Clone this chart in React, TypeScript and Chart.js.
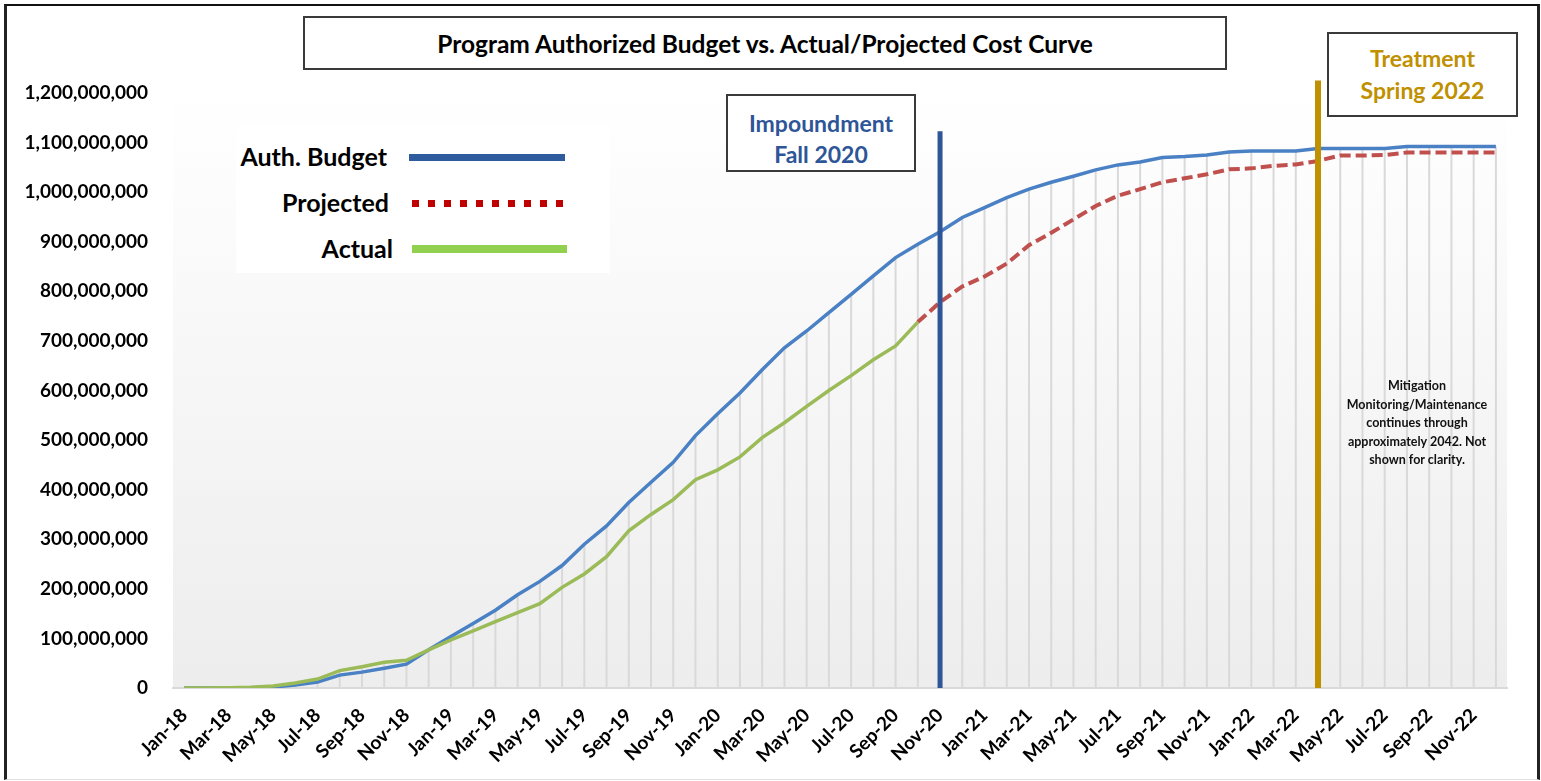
import React, { useEffect, useRef } from "react";
import { Chart, registerables } from "chart.js";

Chart.register(...registerables);

const MONTHS = [
  "Jan-18", "Feb-18", "Mar-18", "Apr-18", "May-18", "Jun-18", "Jul-18", "Aug-18", "Sep-18", "Oct-18", "Nov-18", "Dec-18",
  "Jan-19", "Feb-19", "Mar-19", "Apr-19", "May-19", "Jun-19", "Jul-19", "Aug-19", "Sep-19", "Oct-19", "Nov-19", "Dec-19",
  "Jan-20", "Feb-20", "Mar-20", "Apr-20", "May-20", "Jun-20", "Jul-20", "Aug-20", "Sep-20", "Oct-20", "Nov-20", "Dec-20",
  "Jan-21", "Feb-21", "Mar-21", "Apr-21", "May-21", "Jun-21", "Jul-21", "Aug-21", "Sep-21", "Oct-21", "Nov-21", "Dec-21",
  "Jan-22", "Feb-22", "Mar-22", "Apr-22", "May-22", "Jun-22", "Jul-22", "Aug-22", "Sep-22", "Oct-22", "Nov-22", "Dec-22",
];

// values in millions of dollars
const AUTH_BUDGET_M = [
  0, 0, 0, 0.5, 2, 6, 12, 26, 32, 40, 48, 77,
  104, 130, 157, 188, 215, 247, 290, 327, 374, 415, 455, 509,
  553, 595, 642, 686, 720, 757, 794, 831, 868, 895, 920, 949,
  969, 989, 1006, 1020, 1032, 1045, 1055, 1061, 1070, 1072, 1075, 1081,
  1083, 1083, 1083, 1088, 1088, 1088, 1088, 1092, 1092, 1092, 1092, 1092,
];

const ACTUAL_M = [
  0, 0, 0.5, 1.5, 4, 10, 18, 35, 43, 52, 56, 77,
  97, 115, 134, 152, 170, 203, 230, 265, 317, 350, 380, 420,
  440, 466, 505, 535, 568, 600, 630, 662, 690, 738,
];

const PROJECTED_M = [
  null, null, null, null, null, null, null, null, null, null, null, null,
  null, null, null, null, null, null, null, null, null, null, null, null,
  null, null, null, null, null, null, null, null, null, 738, 778, 810,
  830, 856, 893, 918, 945, 972, 993, 1006, 1020, 1028, 1036, 1046,
  1048, 1053, 1056, 1063, 1074, 1074, 1075, 1080, 1080, 1080, 1080, 1080,
];

const Y_MAX = 1200000000;
const Y_STEP = 100000000;

const IMPOUNDMENT_INDEX = 34;
const IMPOUNDMENT_TOP = 1123000000;
const TREATMENT_INDEX = 51;
const TREATMENT_TOP = 1225000000;

const FONT = 'Lato, "Open Sans", sans-serif';

const toDollars = (arr: (number | null)[]) => arr.map((v) => (v === null ? null : v * 1000000));

const bgPlugin = {
  id: "bgPlugin",
  beforeDraw(chart: any) {
    const { ctx, chartArea: a } = chart;
    ctx.save();
    const g = ctx.createLinearGradient(0, a.top, 0, a.bottom);
    g.addColorStop(0, "#ffffff");
    g.addColorStop(1, "#ededed");
    ctx.fillStyle = g;
    ctx.fillRect(a.left, a.top, a.right - a.left, a.bottom - a.top);
    ctx.restore();
  },
  beforeDatasetsDraw(chart: any) {
    const { ctx, chartArea: a, scales } = chart;
    const xs = scales.x;
    const ys = scales.y;
    const ds = chart.data.datasets;
    ctx.save();
    ctx.strokeStyle = "#d9d9d9";
    ctx.lineWidth = 2;
    for (let i = 0; i < MONTHS.length; i++) {
      let top = 0;
      for (const d of ds) {
        const v = d.data[i];
        if (v !== null && v !== undefined && v > top) top = v;
      }
      const x = xs.getPixelForValue(i);
      ctx.beginPath();
      ctx.moveTo(x, ys.getPixelForValue(top));
      ctx.lineTo(x, a.bottom);
      ctx.stroke();
    }
    ctx.restore();
  },
  afterDatasetsDraw(chart: any) {
    const { ctx, chartArea: a, scales } = chart;
    const xs = scales.x;
    const ys = scales.y;
    const marks = [
      { i: IMPOUNDMENT_INDEX, top: IMPOUNDMENT_TOP, color: "#2e5597", w: 5 },
      { i: TREATMENT_INDEX, top: TREATMENT_TOP, color: "#bf9000", w: 6 },
    ];
    ctx.save();
    for (const m of marks) {
      const x = xs.getPixelForValue(m.i);
      ctx.strokeStyle = m.color;
      ctx.lineWidth = m.w;
      ctx.beginPath();
      ctx.moveTo(x, ys.getPixelForValue(m.top));
      ctx.lineTo(x, a.bottom);
      ctx.stroke();
    }
    ctx.restore();
  },
};

function ChartCanvas() {
  const ref = useRef<HTMLCanvasElement | null>(null);
  useEffect(() => {
    if (!ref.current) return;
    const chart = new Chart(ref.current, {
      type: "line",
      data: {
        labels: MONTHS,
        datasets: [
          {
            label: "Actual",
            data: toDollars(ACTUAL_M),
            borderColor: "#9bbb59",
            borderWidth: 3.5,
            pointRadius: 0,
            tension: 0,
            fill: false,
          },
          {
            label: "Projected",
            data: toDollars(PROJECTED_M),
            borderColor: "#c0504d",
            borderWidth: 4,
            borderDash: [11, 5],
            pointRadius: 0,
            tension: 0,
            fill: false,
          },
          {
            label: "Auth. Budget",
            data: toDollars(AUTH_BUDGET_M),
            borderColor: "#4a81c4",
            borderWidth: 3.5,
            pointRadius: 0,
            tension: 0,
            fill: false,
          },
        ],
      },
      options: {
        responsive: false,
        animation: false,
        events: [],
        layout: { padding: { left: 0, right: 34, top: 93, bottom: 0 } },
        plugins: {
          legend: { display: false },
          tooltip: { enabled: false },
          title: { display: false },
        },
        scales: {
          x: {
            type: "category",
            offset: true,
            grid: { display: false, drawTicks: false },
            border: { display: true, color: "#d9d9d9", width: 2 },
            afterFit: (s: any) => {
              s.height = 93;
            },
            ticks: {
              autoSkip: false,
              minRotation: 45,
              maxRotation: 45,
              padding: 16,
              color: "#000",
              font: { family: FONT, size: 19, weight: "bold" },
              callback: function (this: any, val: any, idx: number) {
                return idx % 2 === 0 ? MONTHS[idx] : "";
              },
            },
          },
          y: {
            min: 0,
            max: Y_MAX,
            grid: { display: false, drawTicks: false },
            border: { display: false },
            afterFit: (s: any) => {
              s.width = 173;
            },
            ticks: {
              stepSize: Y_STEP,
              padding: 25,
              color: "#000",
              font: { family: FONT, size: 19, weight: "bold" },
              callback: (v: any) => Number(v).toLocaleString("en-US"),
            },
          },
        },
      },
      plugins: [bgPlugin],
    });
    return () => chart.destroy();
  }, []);
  return <canvas ref={ref} width={1541} height={781} style={{ position: "absolute", left: 0, top: 0 }} />;
}

const boxStyle: React.CSSProperties = {
  position: "absolute",
  border: "2px solid #3a3a3a",
  background: "#fff",
  boxSizing: "border-box",
  fontFamily: FONT,
  fontWeight: 700,
  textAlign: "center",
};

export default function App() {
  return (
    <div style={{ position: "fixed", left: 0, top: 0, width: 1541, height: 781, background: "#fff", overflow: "hidden" }}>
      <ChartCanvas />
      {/* outer border */}
      <div
        style={{
          position: "absolute",
          left: 4,
          top: 4,
          width: 1536,
          height: 776,
          boxSizing: "border-box",
          borderTop: "2px solid #111",
          borderLeft: "3px solid #222",
          borderRight: "3px solid #222",
          borderBottom: "1px solid #e0e0e0",
          pointerEvents: "none",
        }}
      />
      {/* title */}
      <div
        style={{
          ...boxStyle,
          left: 303,
          top: 16,
          width: 924,
          height: 54,
          display: "flex",
          alignItems: "center",
          justifyContent: "center",
          fontSize: 24.5,
          color: "#000",
        }}
      >
        Program Authorized Budget vs. Actual/Projected Cost Curve
      </div>
      {/* impoundment */}
      <div style={{ ...boxStyle, left: 726, top: 94, width: 190, height: 78, color: "#2e5597", fontSize: 23, lineHeight: "31px", paddingTop: 12 }}>
        Impoundment
        <br />
        Fall 2020
      </div>
      {/* treatment */}
      <div style={{ ...boxStyle, left: 1327, top: 32, width: 191, height: 85, color: "#bf9000", fontSize: 23, lineHeight: "32px", paddingTop: 8 }}>
        Treatment
        <br />
        Spring 2022
      </div>
      {/* mitigation note */}
      <div
        style={{
          position: "absolute",
          left: 1327,
          top: 377,
          width: 180,
          textAlign: "center",
          fontFamily: FONT,
          fontWeight: 700,
          fontSize: 12.5,
          lineHeight: "18.5px",
          color: "#111",
        }}
      >
        Mitigation
        <br />
        Monitoring/Maintenance
        <br />
        continues through
        <br />
        approximately 2042. Not
        <br />
        shown for clarity.
      </div>
      {/* legend */}
      <div style={{ position: "absolute", left: 236, top: 126, width: 374, height: 147, background: "#fff" }} />
      {[
        { label: "Auth. Budget", y: 157, right: 387, kind: "solid", color: "#2f5b9f", x0: 409, x1: 565, h: 7 },
        { label: "Projected", y: 203, right: 389, kind: "dots", color: "#c00000", x0: 412, x1: 567, h: 7 },
        { label: "Actual", y: 249, right: 393, kind: "solid", color: "#92d050", x0: 412, x1: 567, h: 8 },
      ].map((it) => (
        <React.Fragment key={it.label}>
          <div
            style={{
              position: "absolute",
              right: 1541 - it.right,
              top: it.y - 16,
              height: 30,
              lineHeight: "30px",
              fontFamily: FONT,
              fontWeight: 700,
              fontSize: 25,
              color: "#000",
              whiteSpace: "nowrap",
            }}
          >
            {it.label}
          </div>
          <div
            style={{
              position: "absolute",
              left: it.x0,
              top: it.y - it.h / 2,
              width: it.x1 - it.x0,
              height: it.h,
              background:
                it.kind === "dots"
                  ? `repeating-linear-gradient(to right, ${it.color} 0px, ${it.color} 7px, transparent 7px, transparent 16px)`
                  : it.color,
            }}
          />
        </React.Fragment>
      ))}
    </div>
  );
}
